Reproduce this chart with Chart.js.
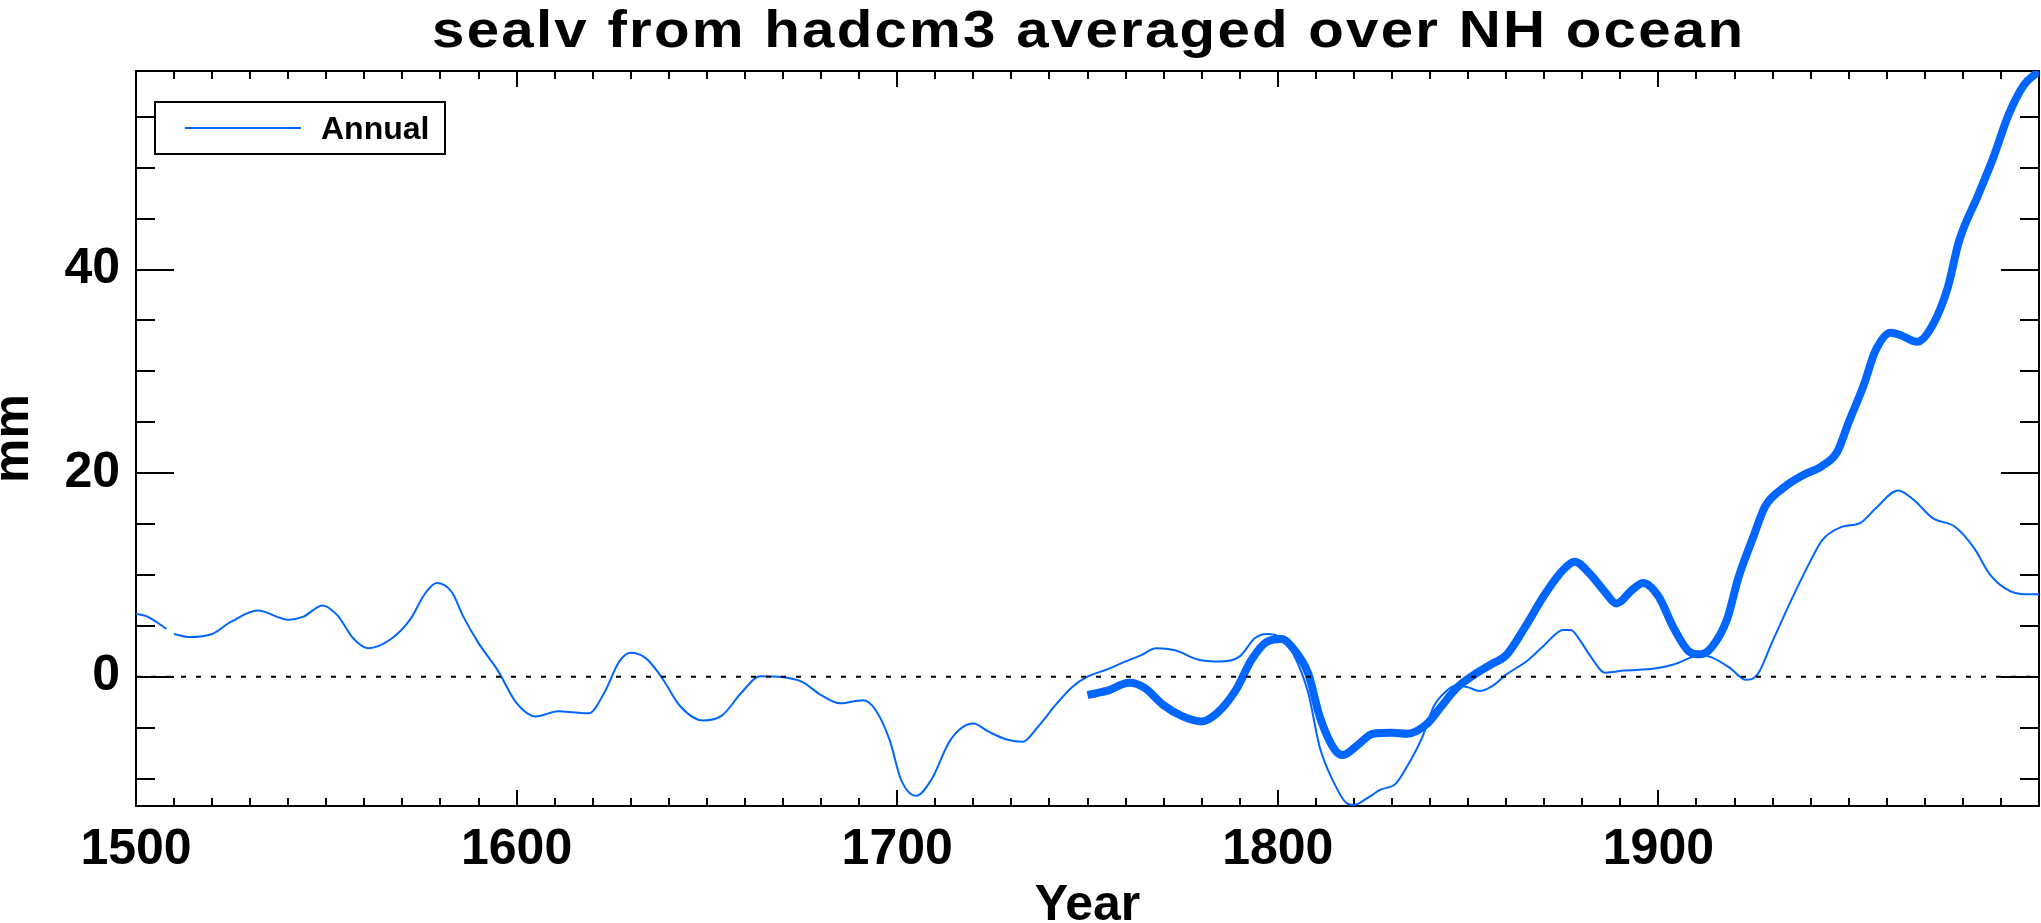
<!DOCTYPE html>
<html>
<head>
<meta charset="utf-8">
<title>sealv from hadcm3 averaged over NH ocean</title>
<script src="https://cdn.jsdelivr.net/npm/chart.js@4.4.1/dist/chart.umd.min.js"></script>
<style>
  html, body { margin: 0; padding: 0; background: #fff; }
  #wrap { width: 2041px; height: 923px; }
</style>
</head>
<body>
<div id="wrap"><canvas id="chart" width="2041" height="923"></canvas></div>
<script>
// Annual series (thin line); null = gap in the line
const annualYears = [
  1500, 1503, 1508, 1509, 1510, 1514, 1520, 1525, 1532, 1540, 1544, 1549, 1553, 1557,
  1561, 1567, 1572, 1576, 1579, 1583, 1586, 1590, 1595, 1600, 1605, 1611, 1615, 1619,
  1623, 1627, 1630, 1634, 1638, 1643, 1649, 1654, 1659, 1664, 1670, 1675, 1680, 1685,
  1691, 1694, 1698, 1701, 1705, 1709, 1714, 1720, 1724, 1729, 1733, 1737, 1742, 1746,
  1750, 1755, 1760, 1764, 1768, 1773, 1779, 1785, 1790, 1794, 1797, 1801, 1804, 1808,
  1811, 1815, 1818, 1820, 1824, 1827, 1831, 1834, 1838, 1841, 1844, 1847, 1850, 1853,
  1856, 1860, 1866, 1870, 1875, 1877, 1879, 1882, 1886, 1891, 1899, 1904, 1911, 1914,
  1919, 1923, 1926, 1930, 1935, 1940, 1943, 1948, 1953, 1957, 1963, 1967, 1972, 1978,
  1983, 1987, 1991, 1996, 2000
];
const annualValues = [
  6.2, 5.9, 4.7, null, 4.2, 3.9, 4.2, 5.4, 6.5, 5.6, 5.9, 7.0, 6.0, 3.8,
  2.8, 3.7, 5.6, 8.2, 9.2, 8.3, 5.9, 3.3, 0.65, -2.6, -3.9, -3.4, -3.5, -3.6,
  -1.6, 1.5, 2.35, 1.8, 0.0, -2.9, -4.3, -3.8, -1.6, 0.05, -0.05, -0.5, -1.8, -2.6,
  -2.3, -3.1, -6.2, -10.1, -11.7, -10.1, -6.2, -4.6, -5.4, -6.2, -6.4, -4.9, -2.6, -1.0,
  0.0, 0.7, 1.5, 2.1, 2.8, 2.6, 1.7, 1.5, 2.0, 3.8, 4.2, 3.8, 2.3, -1.6,
  -6.9, -10.6, -12.4, -12.6, -11.8, -11.1, -10.5, -8.8, -5.9, -2.9, -1.5, -0.85, -1.05, -1.4,
  -1.0, 0.2, 1.7, 3.1, 4.6, 4.6, 3.8, 2.1, 0.4, 0.6, 0.8, 1.2, 2.1, 1.9,
  0.8, -0.3, 0.2, 3.5, 7.6, 11.4, 13.4, 14.7, 15.1, 16.5, 18.3, 17.4, 15.6, 14.7,
  12.6, 10.1, 8.7, 8.1, 8.1
];

// Smoothed series (thick line), from 1750
const smoothYears = [
  1750, 1755, 1761, 1765, 1770, 1775, 1780, 1784, 1789, 1793, 1797, 1801, 1804, 1808,
  1811, 1815, 1817, 1821, 1825, 1830, 1834, 1839, 1843, 1847, 1852, 1856, 1860, 1865,
  1870, 1875, 1878, 1882, 1886, 1889, 1893, 1896, 1900, 1904, 1908, 1911, 1914, 1918,
  1921, 1925, 1928, 1933, 1938, 1943, 1947, 1950, 1954, 1957, 1961, 1964, 1968, 1972,
  1976, 1979, 1984, 1988, 1992, 1996, 2000
];
const smoothValues = [
  -1.8, -1.4, -0.6, -1.1, -2.8, -3.9, -4.4, -3.6, -1.3, 1.6, 3.4, 3.7, 2.8, 0.3,
  -3.9, -7.2, -7.7, -6.7, -5.6, -5.5, -5.6, -4.7, -2.9, -1.1, 0.3, 1.2, 2.1, 4.9,
  8.0, 10.5, 11.3, 10.1, 8.3, 7.2, 8.5, 9.2, 7.9, 4.8, 2.5, 2.2, 2.9, 5.6,
  9.7, 13.8, 16.7, 18.6, 19.8, 20.7, 22.1, 25.0, 28.7, 32.0, 33.8, 33.5, 32.9, 34.5,
  38.2, 42.8, 47.3, 51.0, 55.2, 58.1, 59.5
];

const xTickLabels = [1500, 1600, 1700, 1800, 1900];
const yTickLabels = [0, 20, 40];
const xRange = [1500, 2000];
const yRange = [-12.7, 59.5];
const xMinorStep = 10;
const yMinorStep = 5;

const BLUE = '#0066ff';
const FONT = "'Liberation Sans', Arial, Helvetica, sans-serif";

function toPoints(xs, ys) {
  return xs.map((x, i) => ({ x: x, y: ys[i] }));
}

// IDL-style box with inward ticks on all four sides
const idlAxes = {
  id: 'idlAxes',
  beforeDatasetsDraw(chart) {
    const { ctx, chartArea: a, scales: { x, y } } = chart;
    ctx.save();
    ctx.strokeStyle = '#000';
    ctx.lineWidth = 2;
    ctx.strokeRect(a.left, a.top, a.right - a.left, a.bottom - a.top);
    ctx.beginPath();
    for (let v = xRange[0]; v <= xRange[1]; v += xMinorStep) {
      const px = Math.round(x.getPixelForValue(v));
      const len = xTickLabels.includes(v) ? 16 : 8;
      ctx.moveTo(px, a.bottom); ctx.lineTo(px, a.bottom - len);
      ctx.moveTo(px, a.top); ctx.lineTo(px, a.top + len);
    }
    const y0 = Math.ceil(yRange[0] / yMinorStep) * yMinorStep;
    for (let v = y0; v <= yRange[1]; v += yMinorStep) {
      const py = Math.round(y.getPixelForValue(v));
      const len = yTickLabels.includes(v) ? 38 : 19;
      ctx.moveTo(a.left, py); ctx.lineTo(a.left + len, py);
      ctx.moveTo(a.right, py); ctx.lineTo(a.right - len, py);
    }
    ctx.stroke();
    ctx.restore();
  }
};

// wide title like the original, and the boxed legend
const idlText = {
  id: 'idlText',
  afterDraw(chart) {
    const { ctx, chartArea: a } = chart;
    ctx.save();
    ctx.fillStyle = '#000';
    ctx.font = 'bold 52px ' + FONT;
    ctx.letterSpacing = '2px';
    ctx.textBaseline = 'alphabetic';
    ctx.textAlign = 'left';
    const title = 'sealv from hadcm3 averaged over NH ocean';
    const stretch = 1.12;
    const w = (ctx.measureText(title).width - 2) * stretch;
    ctx.save();
    ctx.translate((a.left + a.right) / 2 - w / 2, 47);
    ctx.scale(stretch, 1);
    ctx.fillText(title, 0, 0);
    ctx.restore();
    ctx.letterSpacing = '0px';

    // legend
    const bx = a.left + 19, by = a.top + 31;
    ctx.strokeStyle = '#000';
    ctx.lineWidth = 2;
    ctx.strokeRect(bx, by, 290, 52);
    ctx.strokeStyle = BLUE;
    ctx.lineWidth = 2;
    ctx.beginPath();
    ctx.moveTo(bx + 30, by + 26);
    ctx.lineTo(bx + 146, by + 26);
    ctx.stroke();
    ctx.font = 'bold 32px ' + FONT;
    ctx.fillText('Annual', bx + 166, by + 37);
    ctx.restore();
  }
};

new Chart(document.getElementById('chart'), {
  type: 'line',
  data: {
    datasets: [
      {
        label: 'zero',
        data: toPoints(xRange, [0, 0]),
        borderColor: '#000',
        borderWidth: 2,
        borderDash: [5, 10],
        pointRadius: 0,
        tension: 0
      },
      {
        label: 'Annual',
        data: toPoints(annualYears, annualValues),
        borderColor: BLUE,
        borderWidth: 2,
        pointRadius: 0,
        cubicInterpolationMode: 'monotone',
        spanGaps: false
      },
      {
        label: 'Smoothed',
        data: toPoints(smoothYears, smoothValues),
        borderColor: BLUE,
        borderWidth: 8,
        pointRadius: 0,
        cubicInterpolationMode: 'monotone'
      }
    ]
  },
  options: {
    responsive: false,
    animation: false,
    devicePixelRatio: 1,
    layout: { padding: { top: 71, right: 2, left: 0, bottom: 0 } },
    plugins: {
      legend: { display: false },
      title: { display: false },
      tooltip: { enabled: false }
    },
    scales: {
      x: {
        type: 'linear',
        min: xRange[0],
        max: xRange[1],
        grid: { display: false, drawTicks: false },
        border: { display: false },
        afterBuildTicks: (s) => { s.ticks = xTickLabels.map(v => ({ value: v })); },
        afterFit: (s) => { s.height = 117; },
        ticks: {
          padding: 14,
          maxRotation: 0,
          autoSkip: false,
          color: '#000',
          font: { family: FONT, size: 50, weight: 'bold', lineHeight: 1.2 },
          callback: (v) => String(v)
        },
        title: {
          display: true,
          text: 'Year',
          color: '#000',
          padding: 0,
          font: { family: FONT, size: 50, weight: 'bold', lineHeight: '34px' }
        }
      },
      y: {
        type: 'linear',
        min: yRange[0],
        max: yRange[1],
        grid: { display: false, drawTicks: false },
        border: { display: false },
        afterBuildTicks: (s) => { s.ticks = yTickLabels.map(v => ({ value: v })); },
        afterFit: (s) => { s.width = 136; },
        ticks: {
          padding: 16,
          color: '#000',
          font: { family: FONT, size: 50, weight: 'bold' },
          callback: (v) => String(v)
        },
        title: {
          display: true,
          text: 'mm',
          color: '#000',
          padding: 0,
          font: { family: FONT, size: 50, weight: 'bold', lineHeight: '28px' }
        }
      }
    }
  },
  plugins: [idlAxes, idlText]
});
</script>
</body>
</html>
